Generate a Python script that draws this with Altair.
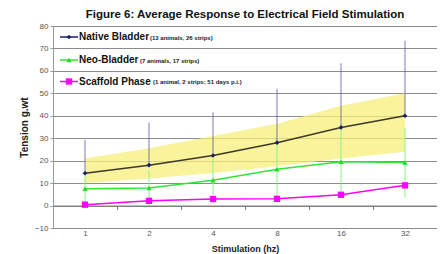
import altair as alt
import pandas as pd

hz = ["1", "2", "4", "8", "16", "32"]
native = [14.4, 18.0, 22.3, 28.0, 34.8, 40.0]
native_err = [14.8, 19.0, 19.2, 24.0, 28.6, 33.4]
neo = [7.5, 7.8, 11.3, 16.2, 19.5, 19.2]
neo_err = [7.5, 7.8, 9.5, 13.0, 15.0, 15.5]
scaffold = [0.4, 2.1, 2.9, 3.0, 4.8, 9.0]
band_low = [10.0, 12.0, 14.5, 17.5, 21.0, 24.0]
band_high = [21.0, 25.5, 31.0, 36.5, 44.5, 50.0]
y_ticks = [-10, 0, 10, 20, 30, 40, 50, 60, 70, 80]

series_names = ["Native Bladder", "Neo-Bladder", "Scaffold Phase"]
series_notes = ["(13 animals, 26 strips)", "(7 animals, 17 strips)", "(1 animal, 2 strips; 51 days p.i.)"]

df = pd.DataFrame({
    "hz": hz, "native": native, "native_top": [m + e for m, e in zip(native, native_err)],
    "neo": neo, "neo_lo": [m - e for m, e in zip(neo, neo_err)],
    "neo_hi": [m + e for m, e in zip(neo, neo_err)],
    "scaffold": scaffold, "lo": band_low, "hi": band_high,
})

W, H = 384, 202
FONT = "Liberation Sans"

xs = alt.Scale(type="band", domain=hz, paddingInner=0, paddingOuter=0)
ys = alt.Scale(domain=[-10, 80], nice=False, zero=False)

x_axis = alt.Axis(
    title="Stimulation (hz)", orient="bottom", offset=-H * 10 / 90, labelAngle=0,
    tickBand="extent", tickSize=4, tickColor="#777", domainColor="#777",
    labelPadding=20, labelFontSize=8, labelColor="#555", labelFont=FONT,
    titleFont=FONT, titleFontSize=9, titleFontWeight="bold", titleColor="#222",
    titlePadding=7, grid=False,
)
y_axis = alt.Axis(
    title="Tension g.wt", values=y_ticks, tickSize=3, tickColor="#999",
    domainColor="#999", labelPadding=2, labelFontSize=8, labelColor="#555", labelFont=FONT,
    labelOverlap=False, labelFlush=False,
    gridColor="#8c8c8c", gridWidth=1, titleFont=FONT, titleFontSize=10,
    titleFontWeight="bold", titleColor="#222", titlePadding=5,
)

base = alt.Chart(df)
X = alt.X("hz:N", scale=xs, axis=x_axis, sort=hz)


def Y(field):
    return alt.Y(field, scale=ys, axis=y_axis)


band = base.mark_area(color="#f7ef7a", opacity=0.75).encode(
    x=X, y=Y("lo:Q"), y2="hi:Q")
neo_bars = base.mark_rule(color="#8cf08c", strokeWidth=1).encode(
    x=X, y=Y("neo_lo:Q"), y2="neo_hi:Q")
nat_bars = base.mark_rule(color="#5a5aa0", strokeWidth=1, opacity=0.8).encode(
    x=X, y=Y("native:Q"), y2="native_top:Q")
nat_line = base.mark_line(color="#3a3a2a", strokeWidth=1.5).encode(
    x=X, y=Y("native:Q"))
nat_pts = base.mark_point(shape="diamond", filled=True, color="#1c1c70", size=22, opacity=1).encode(
    x=X, y=Y("native:Q"))
neo_line = base.mark_line(color="#33e633", strokeWidth=1.5).encode(
    x=X, y=Y("neo:Q"))
neo_pts = base.mark_point(shape="triangle-up", filled=True, color="#22dd22", size=28, opacity=1).encode(
    x=X, y=Y("neo:Q"))
sc_line = base.mark_line(color="#ff00ff", strokeWidth=1.5).encode(
    x=X, y=Y("scaffold:Q"))
sc_pts = base.mark_point(shape="square", filled=True, color="#ff00ff", size=40, opacity=1).encode(
    x=X, y=Y("scaffold:Q"))

# manual legend (layout positions in pixels)
leg = pd.DataFrame({"name": series_names, "note": series_notes})
leg_colors = ["#1c1c70", "#22dd22", "#ff00ff"]
leg_line_colors = ["#1c1c70", "#33e633", "#ff00ff"]
leg_shapes = ["diamond", "triangle-up", "square"]
leg_sizes = [22, 28, 40]
leg_y = [11, 34, 55.5]
note_x = [97, 87, 100]
legend_layers = []
for i, nm in enumerate(series_names):
    b = alt.Chart(leg).transform_filter(alt.datum.name == nm)
    legend_layers += [
        b.mark_rule(color=leg_line_colors[i], strokeWidth=1.5).encode(
            x=alt.value(7), x2=alt.value(25), y=alt.value(leg_y[i])),
        b.mark_point(shape=leg_shapes[i], filled=True, color=leg_colors[i], size=leg_sizes[i], opacity=1).encode(
            x=alt.value(16), y=alt.value(leg_y[i])),
        b.mark_text(align="left", baseline="middle", font=FONT, fontSize=10, fontWeight="bold", color="#111").encode(
            x=alt.value(26), y=alt.value(leg_y[i]), text="name:N"),
        b.mark_text(align="left", baseline="middle", font=FONT, fontSize=6, fontWeight="bold", color="#222").encode(
            x=alt.value(note_x[i]), y=alt.value(leg_y[i] + 0.5), text="note:N"),
    ]

chart = alt.layer(
    band, neo_bars, nat_bars, nat_line, nat_pts, neo_line, neo_pts, sc_line, sc_pts, *legend_layers
).properties(
    width=W, height=H,
    title=alt.TitleParams("Figure 6: Average Response to Electrical Field Stimulation",
                          font=FONT, fontSize=11.5, fontWeight="bold", color="#111",
                          anchor="middle", offset=2),
    padding={"left": 45, "top": 18, "right": 0, "bottom": 26},
    autosize="none",
).configure_view(stroke="#c8c8c8", strokeWidth=1).configure_axis(labelOverlap=False)

chart.save("out.html", embed_options={"renderer": "svg", "actions": False})
